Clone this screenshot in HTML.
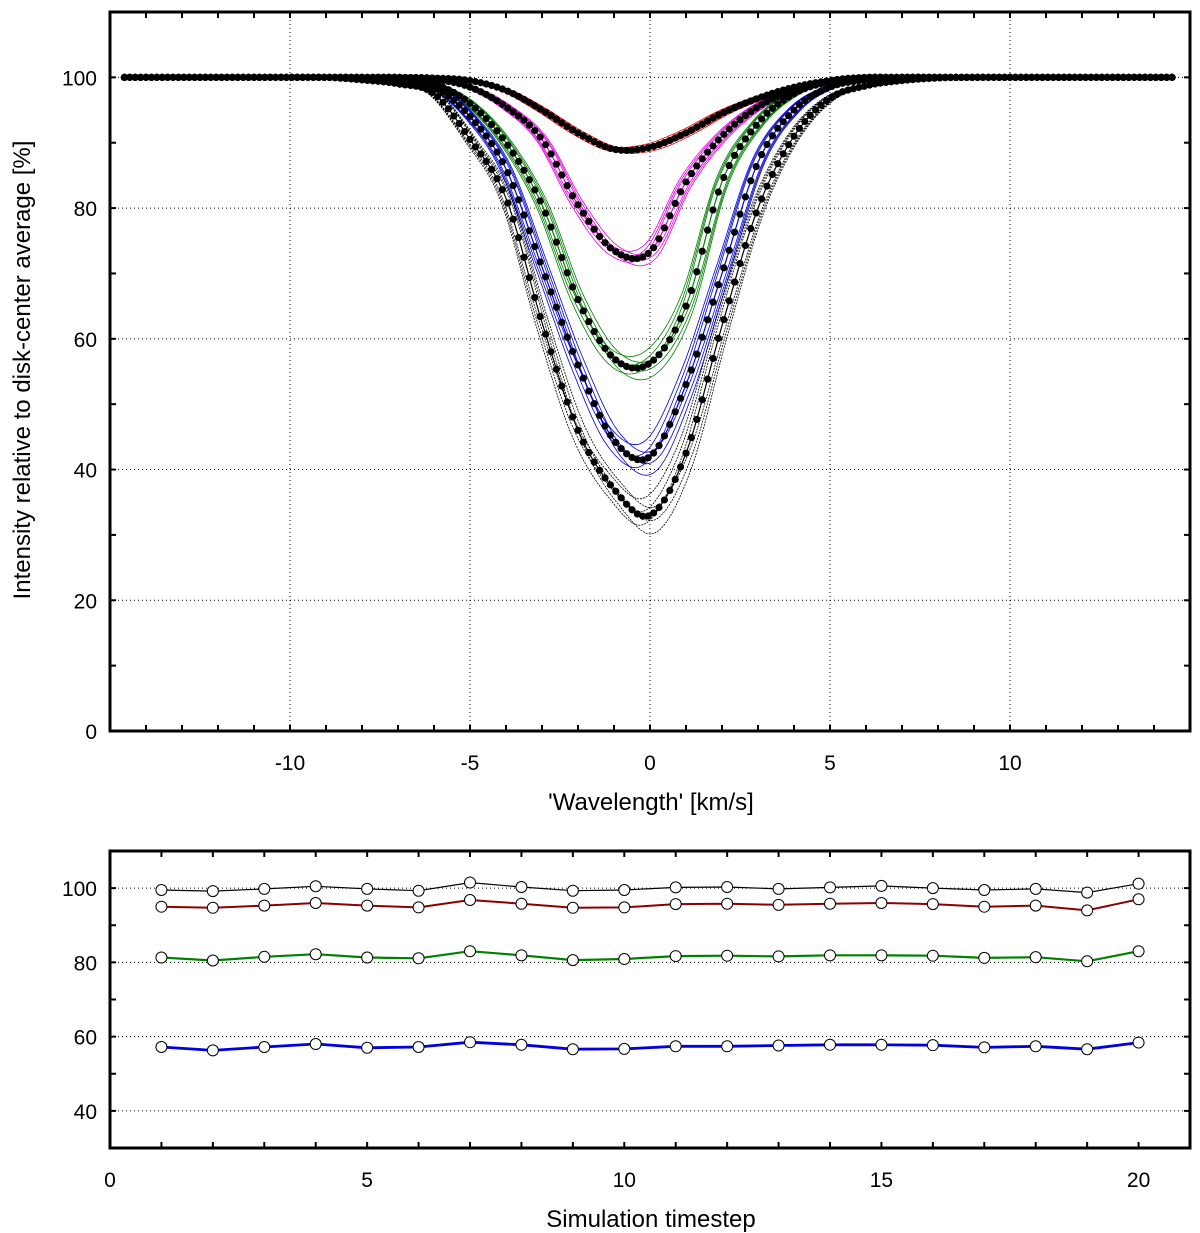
<!DOCTYPE html>
<html><head><meta charset="utf-8">
<style>
html,body{margin:0;padding:0;background:#fff;}
svg{display:block;font-family:"Liberation Sans",Arial,sans-serif;}
</style></head>
<body>
<svg id="fig" width="1200" height="1233" viewBox="0 0 1200 1233"></svg>
<script>
// ---------- Top panel data (intensity profiles, sampled at integer km/s) ----------
const waveGrid = [-15,-14,-13,-12,-11,-10,-9,-8,-7,-6,-5,-4,-3,-2,-1,0,1,2,3,4,5,6,7,8,9,10,11,12,13,14,15];
const profileRed     = [100,100,100,100,100,100,100,100,100,99.9,99.5,98,95,91.5,89,89.3,91.5,94.5,96.8,98.5,99.5,99.9,100,100,100,100,100,100,100,100,100];
const profileMagenta = [100,100,100,100,100,100,100,100,100,99.7,98.5,95.5,90.5,80.5,73.5,73.3,84,91,95.5,98,99.5,100,100,100,100,100,100,100,100,100,100];
const profileGreen   = [100,100,100,100,100,100,100,100,99.7,99,96,90,80.5,66,57,56.3,65,84,93,97.5,99.3,99.8,100,100,100,100,100,100,100,100,100];
const profileBlue    = [100,100,100,100,100,100,100,99.9,99.5,98.5,94,86,71,56,44.5,42,53,70,87,95,98.5,99.6,100,100,100,100,100,100,100,100,100];
const profileBlack   = [100,100,100,100,100,100,100,99.6,99,97.5,90.5,81.5,62.5,46,37,33,42.5,62,80,91,96.8,98.7,99.5,99.9,100,100,100,100,100,100,100];
const profileColors  = ["#e00000","#e000e0","#008000","#0000e0","#000000"];
const spreadFactors  = [0.96,0.98,1.02,1.04,0.99,1.01];
const topXTicks = [-10,-5,0,5,10];
const topYTicks = [0,20,40,60,80,100];

// ---------- Bottom panel data ----------
const timesteps = [1,2,3,4,5,6,7,8,9,10,11,12,13,14,15,16,17,18,19,20];
const seriesBlack = [99.5,99.2,99.8,100.5,99.8,99.3,101.5,100.3,99.3,99.5,100.2,100.3,99.8,100.2,100.6,100.0,99.5,99.8,98.8,101.2];
const seriesRed   = [95,94.7,95.3,96,95.3,94.8,96.8,95.8,94.7,94.8,95.7,95.8,95.5,95.8,96,95.7,95,95.3,94,97];
const seriesGreen = [81.3,80.5,81.5,82.2,81.3,81.1,83,81.9,80.6,80.9,81.7,81.8,81.6,81.9,81.9,81.8,81.2,81.4,80.3,83];
const seriesBlue  = [57.2,56.3,57.2,58,57,57.2,58.5,57.8,56.6,56.7,57.4,57.4,57.6,57.8,57.8,57.7,57.1,57.4,56.6,58.4];
const botXTicks = [0,5,10,15,20];
const botYTicks = [40,60,80,100];

const NS="http://www.w3.org/2000/svg";
const svg=document.getElementById('fig');
function mk(tag,attrs,parent){const e=document.createElementNS(NS,tag);for(const k in attrs)e.setAttribute(k,attrs[k]);(parent||svg).appendChild(e);return e;}

const T={l:110,r:1190,t:12,b:731,x0:-15,x1:15,y0:0,y1:110};
const B={l:110,r:1190,t:851,b:1148,x0:0,x1:21,y0:30,y1:110};
function sx(P,v){return P.l+(v-P.x0)/(P.x1-P.x0)*(P.r-P.l);}
function sy(P,v){return P.b-(v-P.y0)/(P.y1-P.y0)*(P.b-P.t);}

function interp(arr,x){
  const i=Math.max(0,Math.min(waveGrid.length-2,Math.floor(x-waveGrid[0])));
  const t=x-waveGrid[i];
  const p0=arr[Math.max(0,i-1)],p1=arr[i],p2=arr[i+1],p3=arr[Math.min(arr.length-1,i+2)];
  return 0.5*((2*p1)+(-p0+p2)*t+(2*p0-5*p1+4*p2-p3)*t*t+(-p0+3*p1-3*p2+p3)*t*t*t);
}

function frame(P,name,xt,yt,xminor,yminor){
  const g=mk('g',{});
  
  
  xt.forEach(v=>{const l=mk('line',{x1:sx(P,v),x2:sx(P,v),y1:P.t,y2:P.b,stroke:'#000','stroke-width':1,'stroke-dasharray':'1 3'},g);
    });
  yt.forEach(v=>{const l=mk('line',{x1:P.l,x2:P.r,y1:sy(P,v),y2:sy(P,v),stroke:'#000','stroke-width':1,'stroke-dasharray':'1 3'},g);
    });
  for(let v=P.x0+xminor;v<P.x1;v+=xminor){
    const x=sx(P,v);
    mk('line',{x1:x,x2:x,y1:P.b,y2:P.b-6,stroke:'#000','stroke-width':2},g);
    mk('line',{x1:x,x2:x,y1:P.t,y2:P.t+6,stroke:'#000','stroke-width':2},g);
  }
  for(let v=P.y0+yminor;v<P.y1;v+=yminor){
    const y=sy(P,v);
    mk('line',{x1:P.l,x2:P.l+6,y1:y,y2:y,stroke:'#000','stroke-width':2},g);
    mk('line',{x1:P.r,x2:P.r-6,y1:y,y2:y,stroke:'#000','stroke-width':2},g);
  }
  return g;
}
function axesBox(P,name){
  const r=mk('rect',{x:P.l,y:P.t,width:P.r-P.l,height:P.b-P.t,fill:'none',stroke:'#000','stroke-width':3});
  
}
function tickLabels(P,xt,yt,prefix){
  xt.forEach(v=>{const t=mk('text',{x:sx(P,v),y:P.b+39,'font-size':21,'text-anchor':'middle'});t.textContent=v<0?'-'+Math.abs(v):String(v);
    });
  yt.forEach(v=>{const t=mk('text',{x:P.l-13,y:sy(P,v)+8,'font-size':21,'text-anchor':'end'});t.textContent=String(v);
    });
}

// ---------- TOP PANEL ----------
frame(T,'top-grid',topXTicks,topYTicks,1,10);
const profiles=[profileRed,profileMagenta,profileGreen,profileBlue,profileBlack];
const topClip=mk('clipPath',{id:'tclip'});mk('rect',{x:T.l,y:T.t,width:T.r-T.l,height:T.b-T.t},topClip);
const curves=mk('g',{'clip-path':'url(#tclip)'});


function pathFor(arr,f,shift){
  let d='';
  for(let x=-14.6;x<=14.6001;x+=0.1){
    const v=100-(100-interp(arr,x-shift))*f;
    d+=(d?'L':'M')+sx(T,x).toFixed(1)+','+sy(T,v).toFixed(1);
  }
  return d;
}
profiles.forEach((arr,ci)=>{
  spreadFactors.forEach((f,k)=>{
    const p=mk('path',{d:pathFor(arr,f,(k%2?0.15:-0.15)),fill:'none',stroke:profileColors[ci],'stroke-width':0.8,'stroke-dasharray':ci===4?'2 1':'none'},curves);
    
    
  });
  const m=mk('path',{d:pathFor(arr,1,0),fill:'none',stroke:profileColors[ci],'stroke-width':1.2},curves);
  
  
});
profiles.forEach((arr)=>{
  for(let x=-14.6;x<=14.6001;x+=0.15){
    const c=mk('circle',{cx:sx(T,x),cy:sy(T,interp(arr,x)),r:3.6,fill:'#000'},curves);
    
    
  }
});
axesBox(T,'top-axes-frame');
tickLabels(T,topXTicks,topYTicks,'top');
let tt=mk('text',{x:651,y:810,'font-size':24,'text-anchor':'middle'});tt.textContent="'Wavelength'  [km/s]";

tt=mk('text',{x:0,y:0,'font-size':24,'text-anchor':'middle',transform:'translate(30,370) rotate(-90)'});tt.textContent="Intensity relative to disk-center average  [%]";


// ---------- BOTTOM PANEL ----------
frame(B,'bottom-grid',[],[40,60,80,100],1,10);
const bseries=[[seriesBlack,'#000',1.2],[seriesRed,'#8b0000',2],[seriesGreen,'#008000',2.2],[seriesBlue,'#0000e0',2.8]];
bseries.forEach(([vals,col,w])=>{
  let d='';
  timesteps.forEach((t,i)=>{d+=(i?'L':'M')+sx(B,t).toFixed(1)+','+sy(B,vals[i]).toFixed(1);});
  const p=mk('path',{d:d,fill:'none',stroke:col,'stroke-width':w});
  
  
});
bseries.forEach(([vals])=>{
  timesteps.forEach((t,i)=>{
    const c=mk('circle',{cx:sx(B,t),cy:sy(B,vals[i]),r:5.5,fill:'#fff',stroke:'#000','stroke-width':1});
    
    
  });
});
axesBox(B,'bottom-axes-frame');
tickLabels(B,botXTicks,botYTicks,'bottom');
tt=mk('text',{x:651,y:1227,'font-size':24,'text-anchor':'middle'});tt.textContent="Simulation timestep";

</script>
</body></html>
